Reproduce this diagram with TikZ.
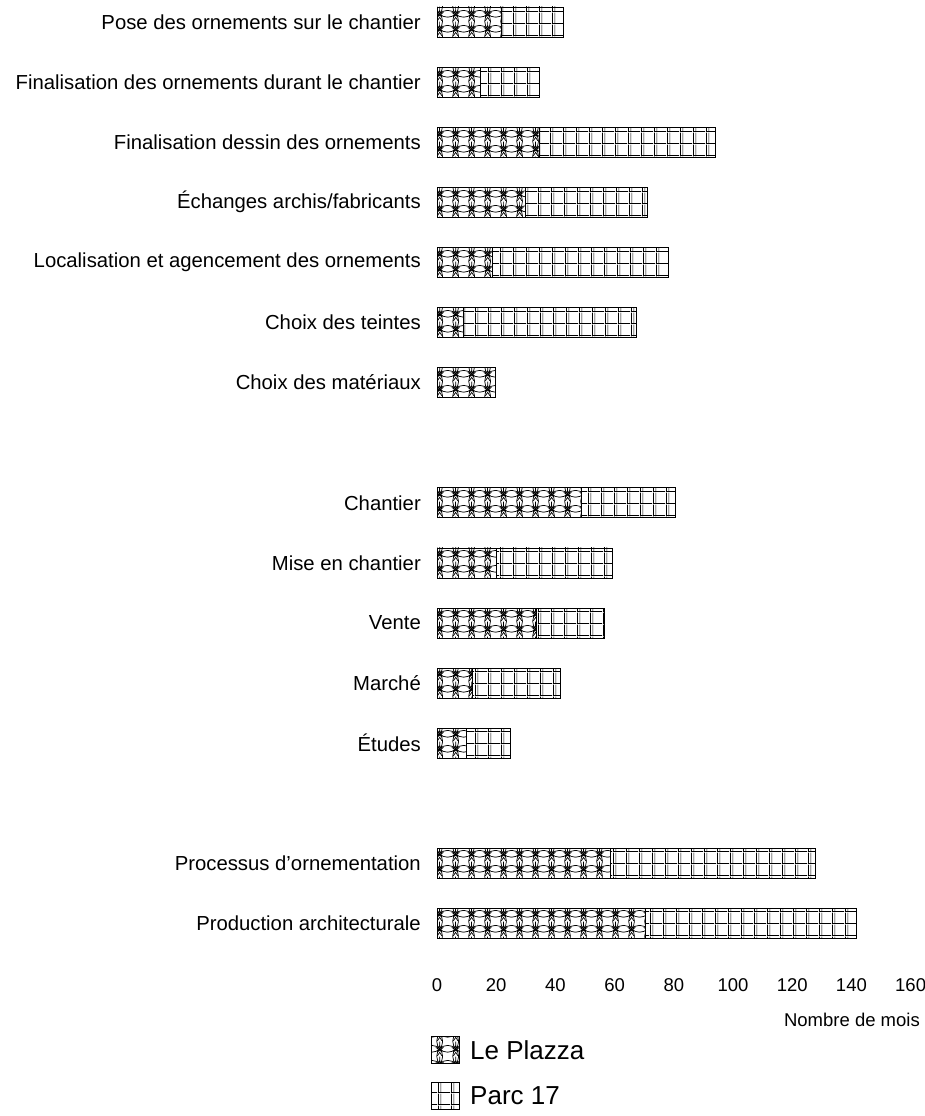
\documentclass[tikz,border=0pt]{standalone}
\usepackage{fontspec}
\setmainfont{Liberation Sans}
\usetikzlibrary{patterns}

% ornament pattern (Le Plazza)
\pgfdeclarepatternformonly{plazza}{\pgfqpoint{0pt}{0pt}}{\pgfqpoint{16pt}{15pt}}{\pgfqpoint{16pt}{15pt}}{%
\pgfsetlinewidth{0.75pt}
\pgfpathcircle{\pgfqpoint{0pt}{0pt}}{11pt}
\pgfpathcircle{\pgfqpoint{16pt}{0pt}}{11pt}
\pgfpathcircle{\pgfqpoint{0pt}{15pt}}{11pt}
\pgfpathcircle{\pgfqpoint{16pt}{15pt}}{11pt}
\pgfusepath{stroke}
\pgfpathmoveto{\pgfqpoint{8pt}{11pt}}
\pgfpathlineto{\pgfqpoint{7.18pt}{8.63pt}}
\pgfpathlineto{\pgfqpoint{4.67pt}{8.58pt}}
\pgfpathlineto{\pgfqpoint{6.67pt}{7.07pt}}
\pgfpathlineto{\pgfqpoint{5.94pt}{4.67pt}}
\pgfpathlineto{\pgfqpoint{8pt}{6.1pt}}
\pgfpathlineto{\pgfqpoint{10.06pt}{4.67pt}}
\pgfpathlineto{\pgfqpoint{9.33pt}{7.07pt}}
\pgfpathlineto{\pgfqpoint{11.33pt}{8.58pt}}
\pgfpathlineto{\pgfqpoint{8.82pt}{8.63pt}}
\pgfpathclose
\pgfpathmoveto{\pgfqpoint{5.5pt}{0pt}}
\pgfpathlineto{\pgfqpoint{8pt}{3.8pt}}
\pgfpathlineto{\pgfqpoint{10.5pt}{0pt}}
\pgfpathmoveto{\pgfqpoint{8pt}{11pt}}
\pgfpathlineto{\pgfqpoint{8pt}{15pt}}
\pgfusepath{stroke}
}
% grid pattern (Parc 17)
\pgfdeclarepatternformonly{parc}{\pgfqpoint{0pt}{0pt}}{\pgfqpoint{12.5pt}{12pt}}{\pgfqpoint{12.5pt}{12pt}}{%
\pgfsetlinewidth{0.8pt}
\pgfpathmoveto{\pgfqpoint{0.5pt}{0pt}}
\pgfpathlineto{\pgfqpoint{0.5pt}{12pt}}
\pgfpathmoveto{\pgfqpoint{0pt}{0.5pt}}
\pgfpathlineto{\pgfqpoint{12.5pt}{0.5pt}}
\pgfusepath{stroke}
\pgfsetlinewidth{0.4pt}
\pgfpathmoveto{\pgfqpoint{3pt}{0pt}}
\pgfpathlineto{\pgfqpoint{3pt}{12pt}}
\pgfusepath{stroke}
}

\tikzset{
  plazza bar/.style={pattern=plazza, draw=black, line width=0.8pt},
  parc bar/.style={pattern=parc, draw=black, line width=0.8pt},
  task/.style={font=\fontsize{20.3}{24}\selectfont, text=black, anchor=east, inner sep=0pt},
  tick label/.style={font=\fontsize{18.5}{22}\selectfont, text=black, anchor=center, inner sep=0pt},
  key label/.style={font=\fontsize{26}{30}\selectfont, text=black, anchor=west, inner sep=0pt}
}

\begin{document}
\begin{tikzpicture}[x=1pt,y=-1pt]
\useasboundingbox (0,0) rectangle (925,1116);

% ornamentation steps
\draw[plazza bar] (437,7) rectangle (501.7,37);
\draw[parc bar] (501.7,7) rectangle (563.3,37);
\node[task] (pose) at (421,22) {Pose des ornements sur le chantier};
\draw[plazza bar] (437,67.1) rectangle (480.7,97.1);
\draw[parc bar] (480.7,67.1) rectangle (539.3,97.1);
\node[task] (finchantier) at (421,82.1) {Finalisation des ornements durant le chantier};
\draw[plazza bar] (437,127.2) rectangle (539.3,157.2);
\draw[parc bar] (539.3,127.2) rectangle (715.7,157.2);
\node[task] (findessin) at (421,142.2) {Finalisation dessin des ornements};
\draw[plazza bar] (437,187.3) rectangle (525,217.3);
\draw[parc bar] (525,187.3) rectangle (647.7,217.3);
\node[task] (echanges) at (421,202.3) {Échanges archis/fabricants};
\draw[plazza bar] (437,247.4) rectangle (492.7,277.4);
\draw[parc bar] (492.7,247.4) rectangle (668.7,277.4);
\node[task] (localisation) at (421,262.4) {Localisation et agencement des ornements};
\draw[plazza bar] (437,307.5) rectangle (463.3,337.5);
\draw[parc bar] (463.3,307.5) rectangle (636.7,337.5);
\node[task] (teintes) at (421,322.5) {Choix des teintes};
\draw[plazza bar] (437,367.6) rectangle (495.3,397.6);
\node[task] (materiaux) at (421,382.6) {Choix des matériaux};

% project phases
\draw[plazza bar] (437,487.8) rectangle (581,517.8);
\draw[parc bar] (581,487.8) rectangle (675,517.8);
\node[task] (chantier) at (421,502.8) {Chantier};
\draw[plazza bar] (437,547.9) rectangle (496,577.9);
\draw[parc bar] (496,547.9) rectangle (612.7,577.9);
\node[task] (mise) at (421,562.9) {Mise en chantier};
\draw[plazza bar] (437,608) rectangle (536.7,638);
\draw[parc bar] (536.7,608) rectangle (604,638);
\node[task] (vente) at (421,623) {Vente};
\draw[plazza bar] (437,668.1) rectangle (472.3,698.1);
\draw[parc bar] (472.3,668.1) rectangle (560,698.1);
\node[task] (marche) at (421,683.1) {Marché};
\draw[plazza bar] (437,728.2) rectangle (466.7,758.2);
\draw[parc bar] (466.7,728.2) rectangle (510.7,758.2);
\node[task] (etudes) at (421,743.2) {Études};

% totals
\draw[plazza bar] (437,848.4) rectangle (610,878.4);
\draw[parc bar] (610,848.4) rectangle (815,878.4);
\node[task] (processus) at (421,863.4) {Processus d’ornementation};
\draw[plazza bar] (437,908.5) rectangle (645.3,938.5);
\draw[parc bar] (645.3,908.5) rectangle (856,938.5);
\node[task] (production) at (421,923.5) {Production architecturale};

% axis
\node[tick label] (t0) at (437,985) {0};
\node[tick label] (t20) at (496.2,985) {20};
\node[tick label] (t40) at (555.4,985) {40};
\node[tick label] (t60) at (614.6,985) {60};
\node[tick label] (t80) at (673.8,985) {80};
\node[tick label] (t100) at (733,985) {100};
\node[tick label] (t120) at (792.2,985) {120};
\node[tick label] (t140) at (851.4,985) {140};
\node[tick label] (t160) at (910.6,985) {160};
\node[tick label, anchor=east] (xtitle) at (920,1020) {Nombre de mois};

% legend
\draw[plazza bar] (431,1036) rectangle (459,1063);
\node[key label] (kplazza) at (470,1050) {Le Plazza};
\draw[parc bar] (431,1082) rectangle (459,1109);
\node[key label] (kparc) at (470,1096) {Parc 17};

\end{tikzpicture}
\end{document}
